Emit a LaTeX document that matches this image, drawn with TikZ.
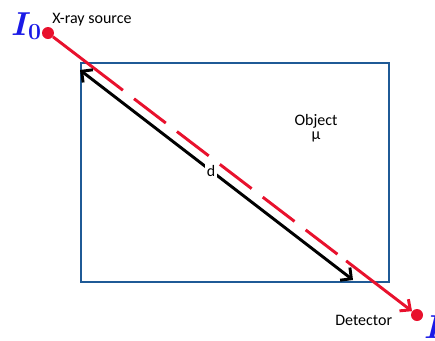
\documentclass[tikz,border=0pt]{standalone}
\usepackage[no-math]{fontspec}
\setmainfont{Carlito}
\setsansfont{Carlito}
\usepackage{xcolor}
\usetikzlibrary{arrows.meta}
\definecolor{boxblue}{HTML}{1F5A96}
\definecolor{rayred}{HTML}{E8112D}
\definecolor{intblue}{HTML}{1A1AE6}

\begin{document}
\begin{tikzpicture}[x=0.75pt,y=-0.75pt,font=\sffamily\fontsize{12}{14}\selectfont,
  dot/.style={circle,fill=rayred,minimum size=9pt,inner sep=0pt},
  ray/.style={rayred,line width=2.2pt},
  intensity/.style={text=intblue,inner sep=0pt,font=\fontsize{24}{28}\selectfont\boldmath},
  barb/.tip={Straight Barb[length=6pt,width=12pt]}]
\useasboundingbox (0,0) rectangle (435,340);
\node[draw=boxblue,line width=2pt,minimum width=231pt,minimum height=164.25pt,inner sep=0pt] (obj) at (235,172.5) {};
\node[dot] (src) at (48,33) {};
\node[dot] (det) at (417,315) {};
\node[intensity,anchor=base west] (izero) at (11,35) {$I_0$};
\node[intensity,anchor=base west] (iout) at (424,338) {$I$};
\node[anchor=base west,inner sep=0pt] (srclbl) at (52,23) {X-ray source};
\node[anchor=base west,inner sep=0pt] (detlbl) at (335,325) {Detector};
\node[anchor=base] (objlbl) at (316,125) {Object};
\node[anchor=base] (mulbl) at (316,139) {μ};
% the ray: solid, dashed through the object, solid again
\path (src.center) -- coordinate[pos=0.203] (r1) coordinate[pos=0.808] (r2) (det.center);
\draw[ray] (src) -- (r1);
\draw[ray,dash pattern=on 30pt off 10.5pt,dash phase=30pt] (r1) -- (r2);
\draw[ray,-{Straight Barb[length=6pt,width=11pt]}] (r2) -- (det);
% path length d
\coordinate (dA) at (80,70);
\coordinate (dB) at (353,280);
\draw[line width=2.2pt,barb-barb] (dA) -- node[pos=0.48,fill=white,inner sep=1.5pt] (dlbl) {d} (dB);
\end{tikzpicture}
\end{document}
